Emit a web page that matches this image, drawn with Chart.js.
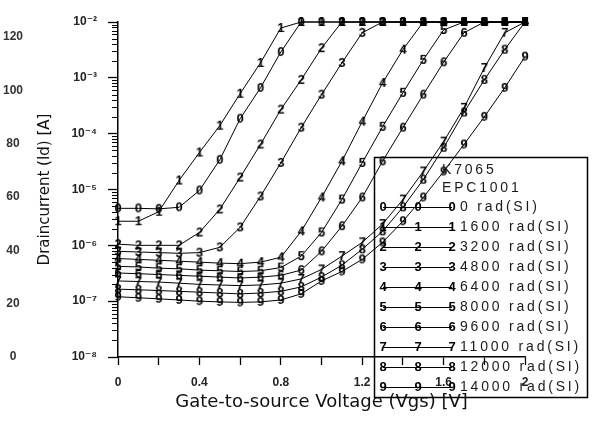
<!DOCTYPE html>
<html>
<head>
<meta charset="utf-8">
<script src="https://cdn.jsdelivr.net/npm/chart.js@4.4.0/dist/chart.umd.min.js"></script>
<style>
  html, body { margin: 0; padding: 0; background: #fff; }
</style>
</head>
<body>
<canvas id="chart" width="596" height="424"></canvas>
<script>
const FONT = "'Liberation Sans', Arial, 'DejaVu Sans', sans-serif";
const WIDE_FONT = "'DejaVu Sans', 'Liberation Sans', sans-serif";

// gate voltage sweep, 0.1 V steps
const voltages = [0, 0.1, 0.2, 0.3, 0.4, 0.5, 0.6, 0.7, 0.8, 0.9, 1.0,
  1.1, 1.2, 1.3, 1.4, 1.5, 1.6, 1.7, 1.8, 1.9, 2.0];

// drain current (A) per total dose
const rad0 = [4.6e-6, 4.6e-6, 4.5e-6, 4.8e-6, 9.6e-6, 3.4e-5, 1.85e-4, 6.6e-4, 2.9e-3, 1e-2, 1e-2,
  1e-2, 1e-2, 1e-2, 1e-2, 1e-2, 1e-2, 1e-2, 1e-2, 1e-2, 1e-2];
const rad1600 = [2.7e-6, 2.7e-6, 4.0e-6, 1.45e-5, 4.6e-5, 1.39e-4, 5.2e-4, 1.85e-3, 7.8e-3, 1e-2, 1e-2,
  1e-2, 1e-2, 1e-2, 1e-2, 1e-2, 1e-2, 1e-2, 1e-2, 1e-2, 1e-2];
const rad3200 = [1.05e-6, 1.0e-6, 1.0e-6, 1.0e-6, 1.7e-6, 4.4e-6, 1.64e-5, 6.4e-5, 2.7e-4, 9.2e-4, 3.4e-3,
  1e-2, 1e-2, 1e-2, 1e-2, 1e-2, 1e-2, 1e-2, 1e-2, 1e-2, 1e-2];
const rad4800 = [7.8e-7, 7.6e-7, 7.4e-7, 7.2e-7, 7.4e-7, 9.2e-7, 2.1e-6, 7.5e-6, 3.0e-5, 1.28e-4, 5.0e-4,
  1.85e-3, 6.4e-3, 1e-2, 1e-2, 1e-2, 1e-2, 1e-2, 1e-2, 1e-2, 1e-2];
const rad6400 = [5.8e-7, 5.6e-7, 5.4e-7, 5.2e-7, 5.0e-7, 4.8e-7, 4.7e-7, 5.0e-7, 6.1e-7, 1.78e-6, 7.2e-6,
  3.2e-5, 1.64e-4, 8.1e-4, 3.2e-3, 1e-2, 1e-2, 1e-2, 1e-2, 1e-2, 1e-2];
const rad8000 = [4.2e-7, 4.1e-7, 3.9e-7, 3.8e-7, 3.6e-7, 3.5e-7, 3.4e-7, 3.5e-7, 4.0e-7, 6.4e-7, 1.7e-6,
  6.6e-6, 3.0e-5, 1.33e-4, 5.4e-4, 2.1e-3, 7.2e-3, 1e-2, 1e-2, 1e-2, 1e-2];
const rad9600 = [3.2e-7, 3.1e-7, 3.0e-7, 2.9e-7, 2.8e-7, 2.7e-7, 2.6e-7, 2.7e-7, 2.9e-7, 3.6e-7, 7.8e-7,
  2.2e-6, 7.2e-6, 3.2e-5, 1.28e-4, 5.0e-4, 1.9e-3, 6.4e-3, 1e-2, 1e-2, 1e-2];
const rad11000 = [2.3e-7, 2.25e-7, 2.2e-7, 2.1e-7, 2.0e-7, 1.95e-7, 1.9e-7, 1.95e-7, 2.1e-7, 2.5e-7, 3.7e-7,
  6.4e-7, 1.13e-6, 2.4e-6, 6.6e-6, 2.1e-5, 7.2e-5, 2.9e-4, 1.5e-3, 6.4e-3, 1e-2];
const rad12000 = [1.64e-7, 1.6e-7, 1.55e-7, 1.5e-7, 1.45e-7, 1.4e-7, 1.35e-7, 1.4e-7, 1.5e-7, 1.8e-7, 2.7e-7,
  4.4e-7, 8.5e-7, 1.78e-6, 4.8e-6, 1.5e-5, 5.6e-5, 2.4e-4, 9.2e-4, 3.2e-3, 1e-2];
const rad14000 = [1.2e-7, 1.15e-7, 1.1e-7, 1.05e-7, 1.0e-7, 9.7e-8, 9.5e-8, 9.7e-8, 1.05e-7, 1.35e-7, 2.3e-7,
  3.4e-7, 5.6e-7, 1.13e-6, 2.7e-6, 7.2e-6, 2.1e-5, 6.4e-5, 2.0e-4, 6.6e-4, 2.4e-3];

const doseLabels = ['0 rad(SI)', '1600 rad(SI)', '3200 rad(SI)', '4800 rad(SI)', '6400 rad(SI)',
  '8000 rad(SI)', '9600 rad(SI)', '11000 rad(SI)', '12000 rad(SI)', '14000 rad(SI)'];
const doseSeries = [rad0, rad1600, rad3200, rad4800, rad6400, rad8000, rad9600, rad11000, rad12000, rad14000];
const markerSymbols = ['0', '1', '2', '3', '4', '5', '6', '7', '8', '9'];
const legendTitle = ['K7065', 'EPC1001'];

const yTickValues = [1e-8, 1e-7, 1e-6, 1e-5, 1e-4, 1e-3, 1e-2];
const leftScaleTicks = [0, 20, 40, 60, 80, 100, 120];

const SUP = { '-': '\u207B', '0': '\u2070', '1': '\u00B9', '2': '\u00B2', '3': '\u00B3', '4': '\u2074',
  '5': '\u2075', '6': '\u2076', '7': '\u2077', '8': '\u2078', '9': '\u2079' };
const powerLabel = (v) => {
  const e = String(Math.round(Math.log10(v)));
  return '10' + e.split('').map(c => SUP[c]).join('');
};

// digit markers, drawn once to small canvases
const makeMarker = (ch) => {
  const c = document.createElement('canvas');
  c.width = 14;
  c.height = 16;
  const g = c.getContext('2d');
  g.fillStyle = '#000';
  g.font = 'bold 13px ' + FONT;
  g.textAlign = 'center';
  g.textBaseline = 'middle';
  g.fillText(ch, 7, 8.5);
  return c;
};
const markers = markerSymbols.map(makeMarker);

const minorTicks = {
  id: 'minorTicks',
  afterDraw(chart) {
    const y = chart.scales.y;
    const ctx = chart.ctx;
    ctx.save();
    ctx.strokeStyle = '#000';
    ctx.lineWidth = 1;
    for (let e = -8; e < -2; e++) {
      for (let k = 2; k <= 9; k++) {
        const py = Math.round(y.getPixelForValue(k * Math.pow(10, e))) + 0.5;
        ctx.beginPath();
        ctx.moveTo(y.right - 6, py);
        ctx.lineTo(y.right, py);
        ctx.stroke();
      }
    }
    ctx.restore();
  }
};

const doseLegend = {
  id: 'doseLegend',
  afterDraw(chart) {
    const ctx = chart.ctx;
    const box = { left: 374.5, top: 157.5, right: 587.5, bottom: 397.5 };
    ctx.save();
    ctx.strokeStyle = '#000';
    ctx.lineWidth = 1.5;
    ctx.strokeRect(box.left, box.top, box.right - box.left, box.bottom - box.top);

    ctx.fillStyle = '#1a1a1a';
    ctx.font = '14px ' + FONT;
    ctx.letterSpacing = '2.8px';
    ctx.textAlign = 'left';
    ctx.textBaseline = 'middle';
    legendTitle.forEach((t, i) => ctx.fillText(t, 442, 170 + i * 18));

    doseLabels.forEach((label, i) => {
      const ry = 207 + i * 20;
      ctx.lineWidth = 1.2;
      ctx.beginPath();
      ctx.moveTo(383, ry + 0.5);
      ctx.lineTo(452, ry + 0.5);
      ctx.stroke();
      [383, 418, 452].forEach(mx => ctx.drawImage(markers[i], mx - 7, ry - 8));
      ctx.fillText(label, 460, ry);
    });
    ctx.restore();
  }
};

const datasets = doseSeries.map((values, i) => ({
  label: doseLabels[i],
  data: values.map((v, j) => ({ x: voltages[j], y: v })),
  yAxisID: 'y',
  borderColor: '#000',
  borderWidth: 1,
  pointStyle: markers[i],
  pointRadius: 6,
  tension: 0,
  clip: false
}));

new Chart(document.getElementById('chart'), {
  type: 'line',
  data: { datasets },
  options: {
    responsive: false,
    animation: false,
    layout: { padding: { top: 22, right: 71, bottom: 11, left: 0 } },
    plugins: { legend: { display: false }, tooltip: { enabled: false } },
    scales: {
      x: {
        type: 'linear',
        min: 0,
        max: 2,
        border: { color: '#000', width: 1.5 },
        grid: { drawOnChartArea: false, tickLength: 8, color: '#000', tickWidth: 1.3 },
        ticks: {
          stepSize: 0.2,
          autoSkip: false,
          maxRotation: 0,
          padding: 10,
          color: '#222',
          font: { family: FONT, size: 12, weight: 'bold' },
          callback: (v) => {
            const t = Math.round(v * 10);
            return t % 4 === 0 ? String(t / 10) : '';
          }
        },
        title: {
          display: true,
          text: 'Gate-to-source Voltage (Vgs) [V]',
          color: '#111',
          font: { family: WIDE_FONT, size: 18 },
          padding: { top: 2, bottom: 0 }
        },
        afterFit: (s) => { s.height = 56; }
      },
      y: {
        type: 'logarithmic',
        position: 'left',
        weight: 0,
        min: 1e-8,
        max: 1e-2,
        border: { color: '#000', width: 1.5 },
        grid: { drawOnChartArea: false, tickLength: 10, color: '#000', tickWidth: 1.3 },
        afterBuildTicks: (s) => { s.ticks = yTickValues.map(v => ({ value: v, major: true })); },
        ticks: {
          autoSkip: false,
          padding: 11,
          color: '#222',
          font: { family: FONT, size: 12, weight: 'bold' },
          callback: (v) => powerLabel(v)
        },
        title: {
          display: true,
          text: 'Draincurrent (Id) [A]',
          color: '#111',
          font: { family: WIDE_FONT, size: 15 },
          padding: { top: 0, bottom: 0 }
        },
        afterFit: (s) => { s.width = 82; }
      },
      yLeft: {
        type: 'linear',
        position: 'left',
        weight: 1,
        min: 0,
        max: 125.6,
        grid: { display: false },
        border: { display: false },
        afterBuildTicks: (s) => { s.ticks = leftScaleTicks.map(v => ({ value: v })); },
        ticks: {
          autoSkip: false,
          crossAlign: 'center',
          padding: 5,
          color: '#333',
          font: { family: FONT, size: 12, weight: 'bold' }
        },
        afterFit: (s) => { s.width = 36; }
      }
    }
  },
  plugins: [minorTicks, doseLegend]
});
</script>
</body>
</html>
